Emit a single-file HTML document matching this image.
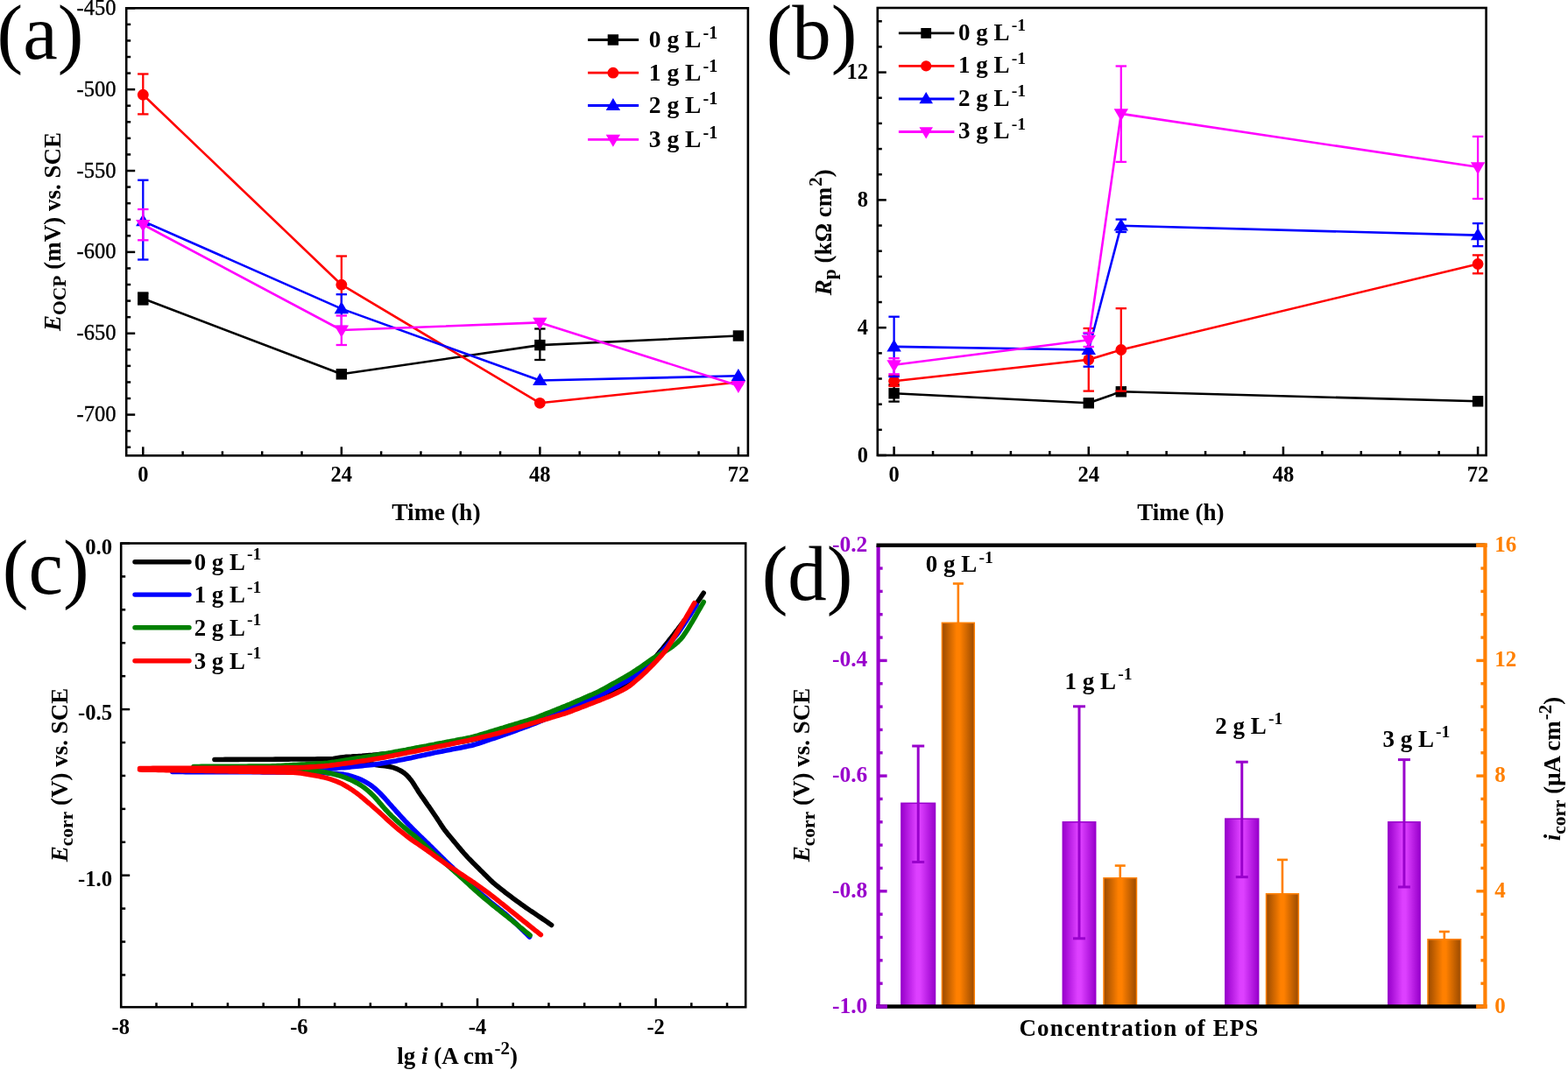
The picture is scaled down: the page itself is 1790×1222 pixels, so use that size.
<!DOCTYPE html><html><head><meta charset="utf-8"><title>Figure</title><style>html,body{margin:0;padding:0;background:#fff;width:1790px;height:1222px;overflow:hidden}svg{display:block}text{font-family:'Liberation Serif','Times New Roman',serif}</style></head><body>
<svg width="1790" height="1222" viewBox="0 0 1790 1222">
<rect width="1790" height="1222" fill="#fff"/>
<text x="-3.50" y="67.00" font-size="89" font-weight="normal" text-anchor="start" fill="#000" >(a)</text>
<text x="874.70" y="67.00" font-size="89" font-weight="normal" text-anchor="start" fill="#000" >(b)</text>
<text x="2.85" y="677.60" font-size="89" font-weight="normal" text-anchor="start" fill="#000" >(c)</text>
<text x="869.70" y="685.30" font-size="89" font-weight="normal" text-anchor="start" fill="#000" >(d)</text>
<line x1="144.20" y1="9.30" x2="154.20" y2="9.30" stroke="#000" stroke-width="2.5" stroke-linecap="butt"/>
<line x1="144.20" y1="27.87" x2="149.20" y2="27.87" stroke="#000" stroke-width="2.5" stroke-linecap="butt"/>
<line x1="144.20" y1="46.44" x2="149.20" y2="46.44" stroke="#000" stroke-width="2.5" stroke-linecap="butt"/>
<line x1="144.20" y1="65.02" x2="149.20" y2="65.02" stroke="#000" stroke-width="2.5" stroke-linecap="butt"/>
<line x1="144.20" y1="83.59" x2="149.20" y2="83.59" stroke="#000" stroke-width="2.5" stroke-linecap="butt"/>
<line x1="144.20" y1="102.16" x2="154.20" y2="102.16" stroke="#000" stroke-width="2.5" stroke-linecap="butt"/>
<line x1="144.20" y1="120.73" x2="149.20" y2="120.73" stroke="#000" stroke-width="2.5" stroke-linecap="butt"/>
<line x1="144.20" y1="139.30" x2="149.20" y2="139.30" stroke="#000" stroke-width="2.5" stroke-linecap="butt"/>
<line x1="144.20" y1="157.88" x2="149.20" y2="157.88" stroke="#000" stroke-width="2.5" stroke-linecap="butt"/>
<line x1="144.20" y1="176.45" x2="149.20" y2="176.45" stroke="#000" stroke-width="2.5" stroke-linecap="butt"/>
<line x1="144.20" y1="195.02" x2="154.20" y2="195.02" stroke="#000" stroke-width="2.5" stroke-linecap="butt"/>
<line x1="144.20" y1="213.59" x2="149.20" y2="213.59" stroke="#000" stroke-width="2.5" stroke-linecap="butt"/>
<line x1="144.20" y1="232.16" x2="149.20" y2="232.16" stroke="#000" stroke-width="2.5" stroke-linecap="butt"/>
<line x1="144.20" y1="250.74" x2="149.20" y2="250.74" stroke="#000" stroke-width="2.5" stroke-linecap="butt"/>
<line x1="144.20" y1="269.31" x2="149.20" y2="269.31" stroke="#000" stroke-width="2.5" stroke-linecap="butt"/>
<line x1="144.20" y1="287.88" x2="154.20" y2="287.88" stroke="#000" stroke-width="2.5" stroke-linecap="butt"/>
<line x1="144.20" y1="306.45" x2="149.20" y2="306.45" stroke="#000" stroke-width="2.5" stroke-linecap="butt"/>
<line x1="144.20" y1="325.02" x2="149.20" y2="325.02" stroke="#000" stroke-width="2.5" stroke-linecap="butt"/>
<line x1="144.20" y1="343.60" x2="149.20" y2="343.60" stroke="#000" stroke-width="2.5" stroke-linecap="butt"/>
<line x1="144.20" y1="362.17" x2="149.20" y2="362.17" stroke="#000" stroke-width="2.5" stroke-linecap="butt"/>
<line x1="144.20" y1="380.74" x2="154.20" y2="380.74" stroke="#000" stroke-width="2.5" stroke-linecap="butt"/>
<line x1="144.20" y1="399.31" x2="149.20" y2="399.31" stroke="#000" stroke-width="2.5" stroke-linecap="butt"/>
<line x1="144.20" y1="417.88" x2="149.20" y2="417.88" stroke="#000" stroke-width="2.5" stroke-linecap="butt"/>
<line x1="144.20" y1="436.46" x2="149.20" y2="436.46" stroke="#000" stroke-width="2.5" stroke-linecap="butt"/>
<line x1="144.20" y1="455.03" x2="149.20" y2="455.03" stroke="#000" stroke-width="2.5" stroke-linecap="butt"/>
<line x1="144.20" y1="473.60" x2="154.20" y2="473.60" stroke="#000" stroke-width="2.5" stroke-linecap="butt"/>
<line x1="144.20" y1="492.17" x2="149.20" y2="492.17" stroke="#000" stroke-width="2.5" stroke-linecap="butt"/>
<line x1="144.20" y1="510.74" x2="149.20" y2="510.74" stroke="#000" stroke-width="2.5" stroke-linecap="butt"/>
<line x1="163.30" y1="520.30" x2="163.30" y2="510.30" stroke="#000" stroke-width="2.5" stroke-linecap="butt"/>
<line x1="208.61" y1="520.30" x2="208.61" y2="515.30" stroke="#000" stroke-width="2.5" stroke-linecap="butt"/>
<line x1="253.91" y1="520.30" x2="253.91" y2="515.30" stroke="#000" stroke-width="2.5" stroke-linecap="butt"/>
<line x1="299.22" y1="520.30" x2="299.22" y2="515.30" stroke="#000" stroke-width="2.5" stroke-linecap="butt"/>
<line x1="344.53" y1="520.30" x2="344.53" y2="515.30" stroke="#000" stroke-width="2.5" stroke-linecap="butt"/>
<line x1="389.84" y1="520.30" x2="389.84" y2="510.30" stroke="#000" stroke-width="2.5" stroke-linecap="butt"/>
<line x1="435.14" y1="520.30" x2="435.14" y2="515.30" stroke="#000" stroke-width="2.5" stroke-linecap="butt"/>
<line x1="480.45" y1="520.30" x2="480.45" y2="515.30" stroke="#000" stroke-width="2.5" stroke-linecap="butt"/>
<line x1="525.76" y1="520.30" x2="525.76" y2="515.30" stroke="#000" stroke-width="2.5" stroke-linecap="butt"/>
<line x1="571.06" y1="520.30" x2="571.06" y2="515.30" stroke="#000" stroke-width="2.5" stroke-linecap="butt"/>
<line x1="616.37" y1="520.30" x2="616.37" y2="510.30" stroke="#000" stroke-width="2.5" stroke-linecap="butt"/>
<line x1="661.68" y1="520.30" x2="661.68" y2="515.30" stroke="#000" stroke-width="2.5" stroke-linecap="butt"/>
<line x1="706.99" y1="520.30" x2="706.99" y2="515.30" stroke="#000" stroke-width="2.5" stroke-linecap="butt"/>
<line x1="752.29" y1="520.30" x2="752.29" y2="515.30" stroke="#000" stroke-width="2.5" stroke-linecap="butt"/>
<line x1="797.60" y1="520.30" x2="797.60" y2="515.30" stroke="#000" stroke-width="2.5" stroke-linecap="butt"/>
<line x1="842.91" y1="520.30" x2="842.91" y2="510.30" stroke="#000" stroke-width="2.5" stroke-linecap="butt"/>
<rect x="144.2" y="9.3" width="709.70" height="511.00" fill="none" stroke="#000" stroke-width="2.6"/>
<text x="132.40" y="16.90" font-size="24.5" font-weight="normal" text-anchor="end" fill="#000" stroke="#000" stroke-width="0.35">-450</text>
<text x="132.40" y="109.76" font-size="24.5" font-weight="normal" text-anchor="end" fill="#000" stroke="#000" stroke-width="0.35">-500</text>
<text x="132.40" y="202.62" font-size="24.5" font-weight="normal" text-anchor="end" fill="#000" stroke="#000" stroke-width="0.35">-550</text>
<text x="132.40" y="295.48" font-size="24.5" font-weight="normal" text-anchor="end" fill="#000" stroke="#000" stroke-width="0.35">-600</text>
<text x="132.40" y="388.34" font-size="24.5" font-weight="normal" text-anchor="end" fill="#000" stroke="#000" stroke-width="0.35">-650</text>
<text x="132.40" y="481.20" font-size="24.5" font-weight="normal" text-anchor="end" fill="#000" stroke="#000" stroke-width="0.35">-700</text>
<text x="163.30" y="550.30" font-size="24.5" font-weight="bold" text-anchor="middle" fill="#000" >0</text>
<text x="389.84" y="550.30" font-size="24.5" font-weight="bold" text-anchor="middle" fill="#000" >24</text>
<text x="616.37" y="550.30" font-size="24.5" font-weight="bold" text-anchor="middle" fill="#000" >48</text>
<text x="842.91" y="550.30" font-size="24.5" font-weight="bold" text-anchor="middle" fill="#000" >72</text>
<text x="497.90" y="593.90" font-size="27.6" font-weight="bold" text-anchor="middle" fill="#000" >Time (h)</text>
<text transform="translate(69.0,264.5) rotate(-90)" x="0" y="0" font-size="27" font-weight="bold" text-anchor="middle"><tspan font-style="italic">E</tspan><tspan font-size="21.5" dy="5.5">OCP</tspan><tspan dy="-5.5"> (mV) vs. SCE</tspan></text>
<line x1="163.30" y1="334.50" x2="163.30" y2="347.50" stroke="#000000" stroke-width="2.3" stroke-linecap="butt"/>
<line x1="157.10" y1="334.50" x2="169.50" y2="334.50" stroke="#000000" stroke-width="2.3" stroke-linecap="butt"/>
<line x1="157.10" y1="347.50" x2="169.50" y2="347.50" stroke="#000000" stroke-width="2.3" stroke-linecap="butt"/>
<line x1="616.37" y1="375.50" x2="616.37" y2="411.00" stroke="#000000" stroke-width="2.3" stroke-linecap="butt"/>
<line x1="610.17" y1="375.50" x2="622.57" y2="375.50" stroke="#000000" stroke-width="2.3" stroke-linecap="butt"/>
<line x1="610.17" y1="411.00" x2="622.57" y2="411.00" stroke="#000000" stroke-width="2.3" stroke-linecap="butt"/>
<polyline points="163.30,341.00 389.84,427.30 616.37,394.10 842.91,383.50" fill="none" stroke="#000000" stroke-width="2.6" stroke-linejoin="round" />
<rect x="157.10" y="334.80" width="12.40" height="12.40" fill="#000000"/>
<rect x="383.64" y="421.10" width="12.40" height="12.40" fill="#000000"/>
<rect x="610.17" y="387.90" width="12.40" height="12.40" fill="#000000"/>
<rect x="836.71" y="377.30" width="12.40" height="12.40" fill="#000000"/>
<line x1="163.30" y1="84.50" x2="163.30" y2="130.40" stroke="#ff0000" stroke-width="2.3" stroke-linecap="butt"/>
<line x1="157.10" y1="84.50" x2="169.50" y2="84.50" stroke="#ff0000" stroke-width="2.3" stroke-linecap="butt"/>
<line x1="157.10" y1="130.40" x2="169.50" y2="130.40" stroke="#ff0000" stroke-width="2.3" stroke-linecap="butt"/>
<line x1="389.84" y1="292.50" x2="389.84" y2="356.40" stroke="#ff0000" stroke-width="2.3" stroke-linecap="butt"/>
<line x1="383.64" y1="292.50" x2="396.04" y2="292.50" stroke="#ff0000" stroke-width="2.3" stroke-linecap="butt"/>
<line x1="383.64" y1="356.40" x2="396.04" y2="356.40" stroke="#ff0000" stroke-width="2.3" stroke-linecap="butt"/>
<polyline points="163.30,108.20 389.84,325.20 616.37,460.30 842.91,436.50" fill="none" stroke="#ff0000" stroke-width="2.6" stroke-linejoin="round" />
<circle cx="163.30" cy="108.20" r="6.40" fill="#ff0000"/>
<circle cx="389.84" cy="325.20" r="6.40" fill="#ff0000"/>
<circle cx="616.37" cy="460.30" r="6.40" fill="#ff0000"/>
<circle cx="842.91" cy="436.50" r="6.40" fill="#ff0000"/>
<line x1="163.30" y1="205.70" x2="163.30" y2="296.50" stroke="#0000ff" stroke-width="2.3" stroke-linecap="butt"/>
<line x1="157.10" y1="205.70" x2="169.50" y2="205.70" stroke="#0000ff" stroke-width="2.3" stroke-linecap="butt"/>
<line x1="157.10" y1="296.50" x2="169.50" y2="296.50" stroke="#0000ff" stroke-width="2.3" stroke-linecap="butt"/>
<line x1="389.84" y1="336.20" x2="389.84" y2="373.00" stroke="#0000ff" stroke-width="2.3" stroke-linecap="butt"/>
<line x1="383.64" y1="336.20" x2="396.04" y2="336.20" stroke="#0000ff" stroke-width="2.3" stroke-linecap="butt"/>
<line x1="383.64" y1="373.00" x2="396.04" y2="373.00" stroke="#0000ff" stroke-width="2.3" stroke-linecap="butt"/>
<polyline points="163.30,252.60 389.84,352.60 616.37,434.50 842.91,429.30" fill="none" stroke="#0000ff" stroke-width="2.6" stroke-linejoin="round" />
<polygon points="163.30,244.20 171.50,258.20 155.10,258.20" fill="#0000ff"/>
<polygon points="389.84,344.20 398.04,358.20 381.64,358.20" fill="#0000ff"/>
<polygon points="616.37,426.10 624.57,440.10 608.17,440.10" fill="#0000ff"/>
<polygon points="842.91,420.90 851.11,434.90 834.71,434.90" fill="#0000ff"/>
<line x1="163.30" y1="239.00" x2="163.30" y2="274.30" stroke="#ff00ff" stroke-width="2.3" stroke-linecap="butt"/>
<line x1="157.10" y1="239.00" x2="169.50" y2="239.00" stroke="#ff00ff" stroke-width="2.3" stroke-linecap="butt"/>
<line x1="157.10" y1="274.30" x2="169.50" y2="274.30" stroke="#ff00ff" stroke-width="2.3" stroke-linecap="butt"/>
<line x1="389.84" y1="360.50" x2="389.84" y2="394.00" stroke="#ff00ff" stroke-width="2.3" stroke-linecap="butt"/>
<line x1="383.64" y1="360.50" x2="396.04" y2="360.50" stroke="#ff00ff" stroke-width="2.3" stroke-linecap="butt"/>
<line x1="383.64" y1="394.00" x2="396.04" y2="394.00" stroke="#ff00ff" stroke-width="2.3" stroke-linecap="butt"/>
<polyline points="163.30,256.50 389.84,377.00 616.37,368.40 842.91,440.50" fill="none" stroke="#ff00ff" stroke-width="2.6" stroke-linejoin="round" />
<polygon points="163.30,264.90 171.50,250.90 155.10,250.90" fill="#ff00ff"/>
<polygon points="389.84,385.40 398.04,371.40 381.64,371.40" fill="#ff00ff"/>
<polygon points="616.37,376.80 624.57,362.80 608.17,362.80" fill="#ff00ff"/>
<polygon points="842.91,448.90 851.11,434.90 834.71,434.90" fill="#ff00ff"/>
<line x1="671.10" y1="45.50" x2="729.10" y2="45.50" stroke="#000000" stroke-width="2.8" stroke-linecap="butt"/>
<rect x="693.70" y="39.30" width="12.40" height="12.40" fill="#000000"/>
<text x="740.80" y="54.40" font-size="27.5" font-weight="bold" text-anchor="start" fill="#000">0 g L<tspan font-size="20.1" dx="2.20" dy="-10.59">-1</tspan></text>
<line x1="671.10" y1="83.20" x2="729.10" y2="83.20" stroke="#ff0000" stroke-width="2.8" stroke-linecap="butt"/>
<circle cx="699.90" cy="83.20" r="6.40" fill="#ff0000"/>
<text x="740.80" y="92.10" font-size="27.5" font-weight="bold" text-anchor="start" fill="#000">1 g L<tspan font-size="20.1" dx="2.20" dy="-10.59">-1</tspan></text>
<line x1="671.10" y1="120.50" x2="729.10" y2="120.50" stroke="#0000ff" stroke-width="2.8" stroke-linecap="butt"/>
<polygon points="699.90,112.10 708.10,126.10 691.70,126.10" fill="#0000ff"/>
<text x="740.80" y="129.40" font-size="27.5" font-weight="bold" text-anchor="start" fill="#000">2 g L<tspan font-size="20.1" dx="2.20" dy="-10.59">-1</tspan></text>
<line x1="671.10" y1="159.40" x2="729.10" y2="159.40" stroke="#ff00ff" stroke-width="2.8" stroke-linecap="butt"/>
<polygon points="699.90,167.80 708.10,153.80 691.70,153.80" fill="#ff00ff"/>
<text x="740.80" y="168.30" font-size="27.5" font-weight="bold" text-anchor="start" fill="#000">3 g L<tspan font-size="20.1" dx="2.20" dy="-10.59">-1</tspan></text>
<line x1="1001.80" y1="520.00" x2="1011.80" y2="520.00" stroke="#000" stroke-width="2.5" stroke-linecap="butt"/>
<line x1="1001.80" y1="490.84" x2="1006.80" y2="490.84" stroke="#000" stroke-width="2.5" stroke-linecap="butt"/>
<line x1="1001.80" y1="461.68" x2="1006.80" y2="461.68" stroke="#000" stroke-width="2.5" stroke-linecap="butt"/>
<line x1="1001.80" y1="432.52" x2="1006.80" y2="432.52" stroke="#000" stroke-width="2.5" stroke-linecap="butt"/>
<line x1="1001.80" y1="403.36" x2="1006.80" y2="403.36" stroke="#000" stroke-width="2.5" stroke-linecap="butt"/>
<line x1="1001.80" y1="374.20" x2="1011.80" y2="374.20" stroke="#000" stroke-width="2.5" stroke-linecap="butt"/>
<line x1="1001.80" y1="345.04" x2="1006.80" y2="345.04" stroke="#000" stroke-width="2.5" stroke-linecap="butt"/>
<line x1="1001.80" y1="315.88" x2="1006.80" y2="315.88" stroke="#000" stroke-width="2.5" stroke-linecap="butt"/>
<line x1="1001.80" y1="286.72" x2="1006.80" y2="286.72" stroke="#000" stroke-width="2.5" stroke-linecap="butt"/>
<line x1="1001.80" y1="257.56" x2="1006.80" y2="257.56" stroke="#000" stroke-width="2.5" stroke-linecap="butt"/>
<line x1="1001.80" y1="228.40" x2="1011.80" y2="228.40" stroke="#000" stroke-width="2.5" stroke-linecap="butt"/>
<line x1="1001.80" y1="199.24" x2="1006.80" y2="199.24" stroke="#000" stroke-width="2.5" stroke-linecap="butt"/>
<line x1="1001.80" y1="170.08" x2="1006.80" y2="170.08" stroke="#000" stroke-width="2.5" stroke-linecap="butt"/>
<line x1="1001.80" y1="140.92" x2="1006.80" y2="140.92" stroke="#000" stroke-width="2.5" stroke-linecap="butt"/>
<line x1="1001.80" y1="111.76" x2="1006.80" y2="111.76" stroke="#000" stroke-width="2.5" stroke-linecap="butt"/>
<line x1="1001.80" y1="82.60" x2="1011.80" y2="82.60" stroke="#000" stroke-width="2.5" stroke-linecap="butt"/>
<line x1="1001.80" y1="53.44" x2="1006.80" y2="53.44" stroke="#000" stroke-width="2.5" stroke-linecap="butt"/>
<line x1="1001.80" y1="24.28" x2="1006.80" y2="24.28" stroke="#000" stroke-width="2.5" stroke-linecap="butt"/>
<line x1="1020.60" y1="520.00" x2="1020.60" y2="510.00" stroke="#000" stroke-width="2.5" stroke-linecap="butt"/>
<line x1="1065.03" y1="520.00" x2="1065.03" y2="515.00" stroke="#000" stroke-width="2.5" stroke-linecap="butt"/>
<line x1="1109.47" y1="520.00" x2="1109.47" y2="515.00" stroke="#000" stroke-width="2.5" stroke-linecap="butt"/>
<line x1="1153.90" y1="520.00" x2="1153.90" y2="515.00" stroke="#000" stroke-width="2.5" stroke-linecap="butt"/>
<line x1="1198.33" y1="520.00" x2="1198.33" y2="515.00" stroke="#000" stroke-width="2.5" stroke-linecap="butt"/>
<line x1="1242.77" y1="520.00" x2="1242.77" y2="510.00" stroke="#000" stroke-width="2.5" stroke-linecap="butt"/>
<line x1="1287.20" y1="520.00" x2="1287.20" y2="515.00" stroke="#000" stroke-width="2.5" stroke-linecap="butt"/>
<line x1="1331.64" y1="520.00" x2="1331.64" y2="515.00" stroke="#000" stroke-width="2.5" stroke-linecap="butt"/>
<line x1="1376.07" y1="520.00" x2="1376.07" y2="515.00" stroke="#000" stroke-width="2.5" stroke-linecap="butt"/>
<line x1="1420.50" y1="520.00" x2="1420.50" y2="515.00" stroke="#000" stroke-width="2.5" stroke-linecap="butt"/>
<line x1="1464.94" y1="520.00" x2="1464.94" y2="510.00" stroke="#000" stroke-width="2.5" stroke-linecap="butt"/>
<line x1="1509.37" y1="520.00" x2="1509.37" y2="515.00" stroke="#000" stroke-width="2.5" stroke-linecap="butt"/>
<line x1="1553.80" y1="520.00" x2="1553.80" y2="515.00" stroke="#000" stroke-width="2.5" stroke-linecap="butt"/>
<line x1="1598.24" y1="520.00" x2="1598.24" y2="515.00" stroke="#000" stroke-width="2.5" stroke-linecap="butt"/>
<line x1="1642.67" y1="520.00" x2="1642.67" y2="515.00" stroke="#000" stroke-width="2.5" stroke-linecap="butt"/>
<line x1="1687.10" y1="520.00" x2="1687.10" y2="510.00" stroke="#000" stroke-width="2.5" stroke-linecap="butt"/>
<rect x="1001.8" y="9.0" width="694.80" height="511.00" fill="none" stroke="#000" stroke-width="2.6"/>
<text x="991.00" y="527.70" font-size="24.5" font-weight="bold" text-anchor="end" fill="#000" >0</text>
<text x="991.00" y="381.90" font-size="24.5" font-weight="bold" text-anchor="end" fill="#000" >4</text>
<text x="991.00" y="236.10" font-size="24.5" font-weight="bold" text-anchor="end" fill="#000" >8</text>
<text x="991.00" y="90.30" font-size="24.5" font-weight="bold" text-anchor="end" fill="#000" >12</text>
<text x="1020.60" y="550.30" font-size="24.5" font-weight="bold" text-anchor="middle" fill="#000" >0</text>
<text x="1242.77" y="550.30" font-size="24.5" font-weight="bold" text-anchor="middle" fill="#000" >24</text>
<text x="1464.94" y="550.30" font-size="24.5" font-weight="bold" text-anchor="middle" fill="#000" >48</text>
<text x="1687.10" y="550.30" font-size="24.5" font-weight="bold" text-anchor="middle" fill="#000" >72</text>
<text x="1347.80" y="593.80" font-size="27" font-weight="bold" text-anchor="middle" fill="#000" >Time (h)</text>
<text transform="translate(948.5,265.2) rotate(-90)" x="0" y="0" font-size="27" font-weight="bold" text-anchor="middle"><tspan font-style="italic">R</tspan><tspan font-size="21.5" dy="5.5">p</tspan><tspan dy="-5.5"> (k&#937; cm</tspan><tspan font-size="21" dx="1" dy="-10.5">2</tspan><tspan dy="10.5">)</tspan></text>
<line x1="1020.60" y1="439.50" x2="1020.60" y2="458.60" stroke="#000000" stroke-width="2.3" stroke-linecap="butt"/>
<line x1="1014.40" y1="439.50" x2="1026.80" y2="439.50" stroke="#000000" stroke-width="2.3" stroke-linecap="butt"/>
<line x1="1014.40" y1="458.60" x2="1026.80" y2="458.60" stroke="#000000" stroke-width="2.3" stroke-linecap="butt"/>
<polyline points="1020.60,449.30 1242.77,460.30 1279.80,447.30 1687.10,458.30" fill="none" stroke="#000000" stroke-width="2.6" stroke-linejoin="round" />
<rect x="1014.40" y="443.10" width="12.40" height="12.40" fill="#000000"/>
<rect x="1236.57" y="454.10" width="12.40" height="12.40" fill="#000000"/>
<rect x="1273.60" y="441.10" width="12.40" height="12.40" fill="#000000"/>
<rect x="1680.90" y="452.10" width="12.40" height="12.40" fill="#000000"/>
<line x1="1020.60" y1="429.00" x2="1020.60" y2="441.00" stroke="#ff0000" stroke-width="2.3" stroke-linecap="butt"/>
<line x1="1014.40" y1="429.00" x2="1026.80" y2="429.00" stroke="#ff0000" stroke-width="2.3" stroke-linecap="butt"/>
<line x1="1014.40" y1="441.00" x2="1026.80" y2="441.00" stroke="#ff0000" stroke-width="2.3" stroke-linecap="butt"/>
<line x1="1242.77" y1="375.00" x2="1242.77" y2="446.60" stroke="#ff0000" stroke-width="2.3" stroke-linecap="butt"/>
<line x1="1236.57" y1="375.00" x2="1248.97" y2="375.00" stroke="#ff0000" stroke-width="2.3" stroke-linecap="butt"/>
<line x1="1236.57" y1="446.60" x2="1248.97" y2="446.60" stroke="#ff0000" stroke-width="2.3" stroke-linecap="butt"/>
<line x1="1279.80" y1="352.20" x2="1279.80" y2="446.60" stroke="#ff0000" stroke-width="2.3" stroke-linecap="butt"/>
<line x1="1273.60" y1="352.20" x2="1286.00" y2="352.20" stroke="#ff0000" stroke-width="2.3" stroke-linecap="butt"/>
<line x1="1273.60" y1="446.60" x2="1286.00" y2="446.60" stroke="#ff0000" stroke-width="2.3" stroke-linecap="butt"/>
<line x1="1687.10" y1="291.40" x2="1687.10" y2="312.30" stroke="#ff0000" stroke-width="2.3" stroke-linecap="butt"/>
<line x1="1680.90" y1="291.40" x2="1693.30" y2="291.40" stroke="#ff0000" stroke-width="2.3" stroke-linecap="butt"/>
<line x1="1680.90" y1="312.30" x2="1693.30" y2="312.30" stroke="#ff0000" stroke-width="2.3" stroke-linecap="butt"/>
<polyline points="1020.60,435.30 1242.77,410.80 1279.80,399.50 1687.10,301.50" fill="none" stroke="#ff0000" stroke-width="2.6" stroke-linejoin="round" />
<circle cx="1020.60" cy="435.30" r="6.40" fill="#ff0000"/>
<circle cx="1242.77" cy="410.80" r="6.40" fill="#ff0000"/>
<circle cx="1279.80" cy="399.50" r="6.40" fill="#ff0000"/>
<circle cx="1687.10" cy="301.50" r="6.40" fill="#ff0000"/>
<line x1="1020.60" y1="361.70" x2="1020.60" y2="430.10" stroke="#0000ff" stroke-width="2.3" stroke-linecap="butt"/>
<line x1="1014.40" y1="361.70" x2="1026.80" y2="361.70" stroke="#0000ff" stroke-width="2.3" stroke-linecap="butt"/>
<line x1="1014.40" y1="430.10" x2="1026.80" y2="430.10" stroke="#0000ff" stroke-width="2.3" stroke-linecap="butt"/>
<line x1="1242.77" y1="380.70" x2="1242.77" y2="418.70" stroke="#0000ff" stroke-width="2.3" stroke-linecap="butt"/>
<line x1="1236.57" y1="380.70" x2="1248.97" y2="380.70" stroke="#0000ff" stroke-width="2.3" stroke-linecap="butt"/>
<line x1="1236.57" y1="418.70" x2="1248.97" y2="418.70" stroke="#0000ff" stroke-width="2.3" stroke-linecap="butt"/>
<line x1="1279.80" y1="250.60" x2="1279.80" y2="265.00" stroke="#0000ff" stroke-width="2.3" stroke-linecap="butt"/>
<line x1="1273.60" y1="250.60" x2="1286.00" y2="250.60" stroke="#0000ff" stroke-width="2.3" stroke-linecap="butt"/>
<line x1="1273.60" y1="265.00" x2="1286.00" y2="265.00" stroke="#0000ff" stroke-width="2.3" stroke-linecap="butt"/>
<line x1="1687.10" y1="255.10" x2="1687.10" y2="281.20" stroke="#0000ff" stroke-width="2.3" stroke-linecap="butt"/>
<line x1="1680.90" y1="255.10" x2="1693.30" y2="255.10" stroke="#0000ff" stroke-width="2.3" stroke-linecap="butt"/>
<line x1="1680.90" y1="281.20" x2="1693.30" y2="281.20" stroke="#0000ff" stroke-width="2.3" stroke-linecap="butt"/>
<polyline points="1020.60,395.90 1242.77,399.50 1279.80,257.80 1687.10,268.60" fill="none" stroke="#0000ff" stroke-width="2.6" stroke-linejoin="round" />
<polygon points="1020.60,387.50 1028.80,401.50 1012.40,401.50" fill="#0000ff"/>
<polygon points="1242.77,391.10 1250.97,405.10 1234.57,405.10" fill="#0000ff"/>
<polygon points="1279.80,249.40 1288.00,263.40 1271.60,263.40" fill="#0000ff"/>
<polygon points="1687.10,260.20 1695.30,274.20 1678.90,274.20" fill="#0000ff"/>
<line x1="1020.60" y1="409.20" x2="1020.60" y2="427.30" stroke="#ff00ff" stroke-width="2.3" stroke-linecap="butt"/>
<line x1="1014.40" y1="409.20" x2="1026.80" y2="409.20" stroke="#ff00ff" stroke-width="2.3" stroke-linecap="butt"/>
<line x1="1014.40" y1="427.30" x2="1026.80" y2="427.30" stroke="#ff00ff" stroke-width="2.3" stroke-linecap="butt"/>
<line x1="1242.77" y1="380.00" x2="1242.77" y2="396.00" stroke="#ff00ff" stroke-width="2.3" stroke-linecap="butt"/>
<line x1="1236.57" y1="380.00" x2="1248.97" y2="380.00" stroke="#ff00ff" stroke-width="2.3" stroke-linecap="butt"/>
<line x1="1236.57" y1="396.00" x2="1248.97" y2="396.00" stroke="#ff00ff" stroke-width="2.3" stroke-linecap="butt"/>
<line x1="1279.80" y1="75.50" x2="1279.80" y2="184.90" stroke="#ff00ff" stroke-width="2.3" stroke-linecap="butt"/>
<line x1="1273.60" y1="75.50" x2="1286.00" y2="75.50" stroke="#ff00ff" stroke-width="2.3" stroke-linecap="butt"/>
<line x1="1273.60" y1="184.90" x2="1286.00" y2="184.90" stroke="#ff00ff" stroke-width="2.3" stroke-linecap="butt"/>
<line x1="1687.10" y1="155.90" x2="1687.10" y2="227.00" stroke="#ff00ff" stroke-width="2.3" stroke-linecap="butt"/>
<line x1="1680.90" y1="155.90" x2="1693.30" y2="155.90" stroke="#ff00ff" stroke-width="2.3" stroke-linecap="butt"/>
<line x1="1680.90" y1="227.00" x2="1693.30" y2="227.00" stroke="#ff00ff" stroke-width="2.3" stroke-linecap="butt"/>
<polyline points="1020.60,416.80 1242.77,388.30 1279.80,129.90 1687.10,190.80" fill="none" stroke="#ff00ff" stroke-width="2.6" stroke-linejoin="round" />
<polygon points="1020.60,425.20 1028.80,411.20 1012.40,411.20" fill="#ff00ff"/>
<polygon points="1242.77,396.70 1250.97,382.70 1234.57,382.70" fill="#ff00ff"/>
<polygon points="1279.80,138.30 1288.00,124.30 1271.60,124.30" fill="#ff00ff"/>
<polygon points="1687.10,199.20 1695.30,185.20 1678.90,185.20" fill="#ff00ff"/>
<line x1="1025.90" y1="37.90" x2="1089.40" y2="37.90" stroke="#000000" stroke-width="2.8" stroke-linecap="butt"/>
<rect x="1051.31" y="32.01" width="11.78" height="11.78" fill="#000000"/>
<text x="1094.10" y="45.70" font-size="27" font-weight="bold" text-anchor="start" fill="#000">0 g L<tspan font-size="19.7" dx="2.16" dy="-10.39">-1</tspan></text>
<line x1="1025.90" y1="75.40" x2="1089.40" y2="75.40" stroke="#ff0000" stroke-width="2.8" stroke-linecap="butt"/>
<circle cx="1057.20" cy="75.40" r="6.08" fill="#ff0000"/>
<text x="1094.10" y="83.20" font-size="27" font-weight="bold" text-anchor="start" fill="#000">1 g L<tspan font-size="19.7" dx="2.16" dy="-10.39">-1</tspan></text>
<line x1="1025.90" y1="113.00" x2="1089.40" y2="113.00" stroke="#0000ff" stroke-width="2.8" stroke-linecap="butt"/>
<polygon points="1057.20,105.02 1064.99,118.32 1049.41,118.32" fill="#0000ff"/>
<text x="1094.10" y="120.80" font-size="27" font-weight="bold" text-anchor="start" fill="#000">2 g L<tspan font-size="19.7" dx="2.16" dy="-10.39">-1</tspan></text>
<line x1="1025.90" y1="150.50" x2="1089.40" y2="150.50" stroke="#ff00ff" stroke-width="2.8" stroke-linecap="butt"/>
<polygon points="1057.20,158.48 1064.99,145.18 1049.41,145.18" fill="#ff00ff"/>
<text x="1094.10" y="158.30" font-size="27" font-weight="bold" text-anchor="start" fill="#000">3 g L<tspan font-size="19.7" dx="2.16" dy="-10.39">-1</tspan></text>
<line x1="138.20" y1="620.50" x2="148.20" y2="620.50" stroke="#000" stroke-width="2.5" stroke-linecap="butt"/>
<line x1="138.20" y1="658.42" x2="143.20" y2="658.42" stroke="#000" stroke-width="2.5" stroke-linecap="butt"/>
<line x1="138.20" y1="696.34" x2="143.20" y2="696.34" stroke="#000" stroke-width="2.5" stroke-linecap="butt"/>
<line x1="138.20" y1="734.26" x2="143.20" y2="734.26" stroke="#000" stroke-width="2.5" stroke-linecap="butt"/>
<line x1="138.20" y1="772.18" x2="143.20" y2="772.18" stroke="#000" stroke-width="2.5" stroke-linecap="butt"/>
<line x1="138.20" y1="810.10" x2="148.20" y2="810.10" stroke="#000" stroke-width="2.5" stroke-linecap="butt"/>
<line x1="138.20" y1="848.02" x2="143.20" y2="848.02" stroke="#000" stroke-width="2.5" stroke-linecap="butt"/>
<line x1="138.20" y1="885.94" x2="143.20" y2="885.94" stroke="#000" stroke-width="2.5" stroke-linecap="butt"/>
<line x1="138.20" y1="923.86" x2="143.20" y2="923.86" stroke="#000" stroke-width="2.5" stroke-linecap="butt"/>
<line x1="138.20" y1="961.78" x2="143.20" y2="961.78" stroke="#000" stroke-width="2.5" stroke-linecap="butt"/>
<line x1="138.20" y1="999.70" x2="148.20" y2="999.70" stroke="#000" stroke-width="2.5" stroke-linecap="butt"/>
<line x1="138.20" y1="1037.62" x2="143.20" y2="1037.62" stroke="#000" stroke-width="2.5" stroke-linecap="butt"/>
<line x1="138.20" y1="1075.54" x2="143.20" y2="1075.54" stroke="#000" stroke-width="2.5" stroke-linecap="butt"/>
<line x1="138.20" y1="1113.46" x2="143.20" y2="1113.46" stroke="#000" stroke-width="2.5" stroke-linecap="butt"/>
<line x1="178.52" y1="1150.20" x2="178.52" y2="1145.20" stroke="#000" stroke-width="2.5" stroke-linecap="butt"/>
<line x1="219.24" y1="1150.20" x2="219.24" y2="1145.20" stroke="#000" stroke-width="2.5" stroke-linecap="butt"/>
<line x1="259.96" y1="1150.20" x2="259.96" y2="1145.20" stroke="#000" stroke-width="2.5" stroke-linecap="butt"/>
<line x1="300.68" y1="1150.20" x2="300.68" y2="1145.20" stroke="#000" stroke-width="2.5" stroke-linecap="butt"/>
<line x1="341.40" y1="1150.20" x2="341.40" y2="1140.20" stroke="#000" stroke-width="2.5" stroke-linecap="butt"/>
<line x1="382.12" y1="1150.20" x2="382.12" y2="1145.20" stroke="#000" stroke-width="2.5" stroke-linecap="butt"/>
<line x1="422.84" y1="1150.20" x2="422.84" y2="1145.20" stroke="#000" stroke-width="2.5" stroke-linecap="butt"/>
<line x1="463.56" y1="1150.20" x2="463.56" y2="1145.20" stroke="#000" stroke-width="2.5" stroke-linecap="butt"/>
<line x1="504.28" y1="1150.20" x2="504.28" y2="1145.20" stroke="#000" stroke-width="2.5" stroke-linecap="butt"/>
<line x1="545.00" y1="1150.20" x2="545.00" y2="1140.20" stroke="#000" stroke-width="2.5" stroke-linecap="butt"/>
<line x1="585.72" y1="1150.20" x2="585.72" y2="1145.20" stroke="#000" stroke-width="2.5" stroke-linecap="butt"/>
<line x1="626.44" y1="1150.20" x2="626.44" y2="1145.20" stroke="#000" stroke-width="2.5" stroke-linecap="butt"/>
<line x1="667.16" y1="1150.20" x2="667.16" y2="1145.20" stroke="#000" stroke-width="2.5" stroke-linecap="butt"/>
<line x1="707.88" y1="1150.20" x2="707.88" y2="1145.20" stroke="#000" stroke-width="2.5" stroke-linecap="butt"/>
<line x1="748.60" y1="1150.20" x2="748.60" y2="1140.20" stroke="#000" stroke-width="2.5" stroke-linecap="butt"/>
<line x1="789.32" y1="1150.20" x2="789.32" y2="1145.20" stroke="#000" stroke-width="2.5" stroke-linecap="butt"/>
<line x1="830.04" y1="1150.20" x2="830.04" y2="1145.20" stroke="#000" stroke-width="2.5" stroke-linecap="butt"/>
<rect x="138.2" y="620.5" width="713.00" height="529.70" fill="none" stroke="#000" stroke-width="2.6"/>
<text x="128.00" y="632.50" font-size="24.7" font-weight="bold" text-anchor="end" fill="#000" >0.0</text>
<text x="128.00" y="822.10" font-size="24.7" font-weight="bold" text-anchor="end" fill="#000" >-0.5</text>
<text x="128.00" y="1011.70" font-size="24.7" font-weight="bold" text-anchor="end" fill="#000" >-1.0</text>
<text x="137.80" y="1180.50" font-size="24.5" font-weight="bold" text-anchor="middle" fill="#000" >-8</text>
<text x="341.40" y="1180.50" font-size="24.5" font-weight="bold" text-anchor="middle" fill="#000" >-6</text>
<text x="545.00" y="1180.50" font-size="24.5" font-weight="bold" text-anchor="middle" fill="#000" >-4</text>
<text x="748.60" y="1180.50" font-size="24.5" font-weight="bold" text-anchor="middle" fill="#000" >-2</text>
<text x="522.2" y="1214.6" font-size="27" font-weight="bold" text-anchor="middle">lg <tspan font-style="italic">i</tspan> (A cm<tspan font-size="21" dx="1" dy="-10.5">-2</tspan><tspan dy="10.5">)</tspan></text>
<text transform="translate(77,885) rotate(-90)" x="0" y="0" font-size="27" font-weight="bold" text-anchor="middle"><tspan font-style="italic">E</tspan><tspan font-size="21.5" dy="5.5">corr</tspan><tspan dy="-5.5"> (V) vs. SCE</tspan></text>
<path d="M382.5,867.8 L385.5,868.1 L388.5,868.4 L391.5,868.7 L394.5,869.0 L397.5,869.3 L400.5,869.6 L403.5,869.9 L406.5,870.2 L409.5,870.6 L412.5,871.0 L415.5,871.4 L418.5,871.9 L421.4,872.4 L424.4,872.9 L427.4,873.3 L430.4,873.8 L433.4,874.1 L436.4,874.5 L439.3,874.8 L442.3,875.2 L445.3,875.7 L448.2,876.4 L451.0,877.3 L453.8,878.4 L456.5,879.7 L459.1,881.2 L461.5,882.9 L463.8,884.8 L465.9,886.9 L467.8,889.2 L469.7,891.5 L471.4,894.0 L473.0,896.5 L474.6,899.1 L476.2,901.6 L477.8,904.2 L479.5,906.7 L481.2,909.2 L483.0,911.6 L484.7,914.1 L486.4,916.6 L488.1,919.1 L489.9,921.5 L491.6,924.0 L493.3,926.5 L495.0,929.0 L496.7,931.5 L498.4,934.0 L500.0,936.5 L501.7,939.0 L503.3,941.6 L505.0,944.1 L506.7,946.6 L508.5,949.0 L510.3,951.3 L512.2,953.7 L514.2,956.0 L516.1,958.3 L518.0,960.6 L520.0,963.0 L521.9,965.3 L523.8,967.6 L525.8,969.9 L527.7,972.2 L529.7,974.5 L531.7,976.7 L533.7,978.9 L535.8,981.1 L538.0,983.3 L540.1,985.4 L542.2,987.5 L544.4,989.7 L546.5,991.8 L548.6,993.9 L550.8,996.1 L552.9,998.2 L555.0,1000.3 L557.2,1002.5 L559.3,1004.6 L561.5,1006.6 L563.7,1008.7 L566.0,1010.6 L568.4,1012.5 L570.7,1014.4 L573.1,1016.3 L575.5,1018.1 L577.8,1020.0 L580.2,1021.8 L582.6,1023.6 L585.1,1025.4 L587.5,1027.2 L589.9,1029.0 L592.4,1030.8 L594.8,1032.6 L597.3,1034.3 L599.7,1036.1 L602.2,1037.8 L604.7,1039.5 L607.2,1041.1 L609.7,1042.8 L612.2,1044.5 L614.7,1046.2 L617.2,1047.9 L619.7,1049.6 L622.2,1051.3 L624.7,1053.0 L627.1,1054.8 L629.6,1056.5" fill="none" stroke="#000000" stroke-width="5.6" stroke-linecap="round" stroke-linejoin="round"/>
<path d="M245.0,867.5 L248.0,867.5 L251.0,867.5 L254.0,867.5 L257.1,867.4 L260.1,867.4 L263.1,867.4 L266.1,867.4 L269.1,867.4 L272.1,867.4 L275.1,867.3 L278.2,867.3 L281.2,867.3 L284.2,867.3 L287.2,867.3 L290.2,867.3 L293.2,867.2 L296.2,867.2 L299.2,867.2 L302.3,867.2 L305.3,867.2 L308.3,867.2 L311.3,867.2 L314.3,867.1 L317.3,867.1 L320.3,867.1 L323.4,867.1 L326.4,867.1 L329.4,867.1 L332.4,867.0 L335.4,867.0 L338.4,867.0 L341.4,867.0 L344.5,867.0 L347.5,867.0 L350.5,867.0 L353.5,867.0 L356.5,867.0 L359.5,867.0 L362.5,866.9 L365.6,866.9 L368.6,866.9 L371.6,866.9 L374.6,866.9 L377.6,866.7 L380.5,866.5 L383.4,866.0 L386.3,865.5 L389.3,865.0 L392.2,864.7 L395.2,864.4 L398.2,864.2 L401.2,864.1 L404.2,863.9 L407.2,863.8 L410.3,863.6 L413.3,863.4 L416.3,863.1 L419.3,862.8 L422.3,862.5 L425.3,862.3 L428.3,862.0 L431.3,861.7 L434.3,861.4 L437.3,861.1 L440.3,860.8 L443.3,860.5 L446.2,860.1 L449.2,859.8 L452.2,859.4 L455.2,858.9 L458.2,858.5 L461.2,858.0 L464.1,857.5 L467.1,856.9 L470.1,856.4 L473.0,855.9 L476.0,855.4 L479.0,854.9 L481.9,854.4 L484.9,853.9 L487.9,853.4 L490.9,852.9 L493.8,852.4 L496.8,851.9 L499.8,851.4 L502.8,851.0 L505.7,850.5 L508.7,850.0 L511.7,849.5 L514.7,849.1 L517.6,848.6 L520.6,848.1 L523.6,847.6 L526.6,847.1 L529.5,846.7 L532.5,846.2 L535.5,845.6 L538.4,845.0 L541.4,844.4 L544.3,843.7 L547.2,843.0 L550.2,842.3 L553.1,841.5 L556.0,840.8 L558.9,840.1 L561.9,839.4 L564.8,838.7 L567.7,837.9 L570.6,837.2 L573.6,836.4 L576.5,835.6 L579.4,834.8 L582.2,833.9 L585.1,833.1 L588.0,832.2 L590.9,831.4 L593.8,830.5 L596.7,829.6 L599.6,828.8 L602.5,827.9 L605.3,827.0 L608.2,826.1 L611.1,825.2 L613.9,824.2 L616.8,823.2 L619.6,822.2 L622.4,821.2 L625.3,820.1 L628.1,819.1 L630.9,818.1 L633.8,817.0 L636.6,816.0 L639.4,815.0 L642.2,813.9 L645.1,812.9 L647.9,811.8 L650.7,810.8 L653.5,809.7 L656.4,808.6 L659.2,807.6 L662.0,806.5 L664.8,805.4 L667.6,804.4 L670.5,803.3 L673.3,802.2 L676.1,801.1 L678.9,800.0 L681.7,798.9 L684.4,797.7 L687.1,796.4 L689.8,795.0 L692.5,793.6 L695.1,792.1 L697.7,790.7 L700.4,789.2 L703.0,787.7 L705.6,786.2 L708.2,784.6 L710.7,783.1 L713.3,781.5 L715.9,780.0 L718.4,778.3 L720.9,776.7 L723.3,774.8 L725.6,772.9 L727.8,770.9 L729.9,768.8 L732.1,766.6 L734.2,764.5 L736.3,762.4 L738.5,760.2 L740.6,758.1 L742.7,756.0 L744.8,753.8 L746.9,751.7 L749.0,749.5 L751.0,747.2 L752.9,744.9 L754.8,742.6 L756.8,740.3 L758.6,737.9 L760.5,735.6 L762.4,733.2 L764.2,730.8 L766.1,728.4 L768.0,726.1 L769.8,723.7 L771.6,721.3 L773.5,718.9 L775.3,716.5 L777.1,714.1 L779.0,711.7 L780.8,709.3 L782.6,706.9 L784.4,704.5 L786.2,702.1 L788.0,699.6 L789.7,697.2 L791.5,694.7 L793.2,692.2 L794.8,689.7 L796.5,687.2 L798.2,684.7 L799.9,682.2 L801.5,679.7 L803.2,677.2" fill="none" stroke="#000000" stroke-width="5.6" stroke-linecap="round" stroke-linejoin="round"/>
<path d="M196.8,881.5 L199.8,881.5 L202.8,881.5 L205.8,881.5 L208.8,881.5 L211.9,881.6 L214.9,881.6 L217.9,881.6 L220.9,881.6 L223.9,881.6 L226.9,881.6 L229.9,881.6 L232.9,881.6 L236.0,881.6 L239.0,881.6 L242.0,881.7 L245.0,881.7 L248.0,881.7 L251.0,881.7 L254.0,881.7 L257.0,881.7 L260.1,881.7 L263.1,881.7 L266.1,881.7 L269.1,881.8 L272.1,881.8 L275.1,881.8 L278.1,881.8 L281.1,881.8 L284.2,881.8 L287.2,881.8 L290.2,881.8 L293.2,881.8 L296.2,881.8 L299.2,881.9 L302.2,881.9 L305.2,881.9 L308.2,881.9 L311.3,881.9 L314.3,881.9 L317.3,881.9 L320.3,881.9 L323.3,881.9 L326.3,882.0 L329.3,882.0 L332.3,882.0 L335.4,882.0 L338.4,882.0 L341.4,882.1 L344.4,882.1 L347.4,882.2 L350.4,882.3 L353.4,882.3 L356.4,882.4 L359.5,882.5 L362.5,882.6 L365.5,882.6 L368.5,882.7 L371.5,882.8 L374.5,882.9 L377.5,883.0 L380.5,883.2 L383.5,883.4 L386.5,883.7 L389.5,884.0 L392.5,884.4 L395.4,884.9 L398.4,885.6 L401.2,886.4 L404.1,887.3 L406.9,888.3 L409.7,889.4 L412.5,890.6 L415.2,891.9 L417.8,893.4 L420.4,894.9 L422.9,896.5 L425.3,898.3 L427.6,900.2 L429.9,902.2 L432.1,904.2 L434.2,906.3 L436.3,908.5 L438.4,910.7 L440.4,913.0 L442.3,915.2 L444.3,917.5 L446.3,919.7 L448.3,922.0 L450.3,924.2 L452.3,926.5 L454.4,928.7 L456.4,931.0 L458.4,933.2 L460.5,935.4 L462.5,937.6 L464.6,939.8 L466.7,942.0 L468.8,944.1 L470.9,946.2 L473.0,948.4 L475.2,950.5 L477.3,952.6 L479.5,954.7 L481.7,956.8 L483.8,958.9 L486.0,961.0 L488.2,963.0 L490.3,965.2 L492.5,967.3 L494.6,969.4 L496.7,971.5 L498.9,973.7 L501.0,975.8 L503.1,977.9 L505.3,980.0 L507.4,982.1 L509.6,984.2 L511.8,986.3 L514.0,988.4 L516.2,990.4 L518.4,992.5 L520.6,994.5 L522.8,996.6 L525.0,998.7 L527.2,1000.7 L529.4,1002.8 L531.6,1004.8 L533.8,1006.8 L536.0,1008.9 L538.2,1010.9 L540.4,1013.0 L542.7,1015.0 L544.9,1017.0 L547.2,1019.0 L549.4,1021.0 L551.7,1023.0 L554.0,1024.9 L556.3,1026.9 L558.5,1028.9 L560.8,1030.8 L563.2,1032.7 L565.5,1034.6 L567.9,1036.5 L570.2,1038.4 L572.6,1040.3 L574.9,1042.1 L577.3,1044.0 L579.6,1046.0 L581.8,1048.0 L584.0,1050.0 L586.2,1052.1 L588.4,1054.2 L590.5,1056.3 L592.7,1058.4 L594.8,1060.5 L597.0,1062.6 L599.1,1064.7 L601.3,1066.8 L603.4,1068.9 L604.5,1070.0" fill="none" stroke="#0000ff" stroke-width="5.6" stroke-linecap="round" stroke-linejoin="round"/>
<path d="M196.8,880.0 L199.8,880.0 L202.8,880.0 L205.8,880.0 L208.8,880.0 L211.9,880.0 L214.9,880.0 L217.9,880.0 L220.9,880.0 L223.9,880.0 L226.9,880.0 L229.9,880.0 L232.9,880.0 L236.0,880.0 L239.0,880.0 L242.0,880.0 L245.0,880.0 L248.0,880.0 L251.0,880.0 L254.0,880.0 L257.0,880.0 L260.1,880.0 L263.1,880.0 L266.1,880.0 L269.1,880.0 L272.1,880.0 L275.1,880.0 L278.1,880.0 L281.1,880.0 L284.2,880.0 L287.2,880.0 L290.2,880.0 L293.2,880.0 L296.2,880.0 L299.2,880.0 L302.2,880.0 L305.2,880.0 L308.3,880.0 L311.3,880.0 L314.3,880.0 L317.3,880.0 L320.3,880.0 L323.3,880.0 L326.3,880.0 L329.3,880.0 L332.3,880.0 L335.4,880.0 L338.4,879.9 L341.4,879.8 L344.4,879.7 L347.4,879.5 L350.4,879.3 L353.4,879.1 L356.4,878.9 L359.4,878.7 L362.4,878.6 L365.4,878.4 L368.4,878.2 L371.4,878.0 L374.4,877.8 L377.5,877.6 L380.5,877.4 L383.5,877.2 L386.5,877.0 L389.5,876.8 L392.5,876.6 L395.5,876.4 L398.5,876.1 L401.5,875.8 L404.5,875.5 L407.5,875.2 L410.5,874.9 L413.5,874.6 L416.5,874.3 L419.5,874.0 L422.5,873.7 L425.5,873.4 L428.4,873.0 L431.4,872.5 L434.4,872.1 L437.4,871.5 L440.3,871.0 L443.3,870.5 L446.2,869.9 L449.2,869.4 L452.2,868.9 L455.1,868.3 L458.1,867.8 L461.1,867.2 L464.0,866.6 L467.0,866.0 L469.9,865.4 L472.8,864.7 L475.8,864.1 L478.7,863.4 L481.7,862.8 L484.6,862.2 L487.6,861.5 L490.5,860.9 L493.5,860.3 L496.4,859.6 L499.4,859.1 L502.3,858.5 L505.3,857.9 L508.2,857.3 L511.2,856.8 L514.1,856.2 L517.1,855.6 L520.1,855.0 L523.0,854.5 L526.0,853.9 L528.9,853.3 L531.9,852.7 L534.8,852.1 L537.8,851.5 L540.7,850.7 L543.6,849.9 L546.4,849.0 L549.3,848.1 L552.2,847.1 L555.0,846.2 L557.9,845.2 L560.7,844.2 L563.6,843.3 L566.4,842.3 L569.3,841.4 L572.1,840.4 L575.0,839.4 L577.8,838.4 L580.7,837.4 L583.5,836.3 L586.3,835.3 L589.1,834.3 L592.0,833.2 L594.8,832.2 L597.6,831.1 L600.5,830.1 L603.3,829.1 L606.1,828.0 L608.9,826.9 L611.7,825.8 L614.5,824.7 L617.3,823.5 L620.0,822.3 L622.8,821.1 L625.6,819.9 L628.3,818.7 L631.1,817.5 L633.9,816.3 L636.6,815.1 L639.4,813.9 L642.1,812.7 L644.9,811.5 L647.7,810.3 L650.4,809.1 L653.2,807.9 L656.0,806.7 L658.7,805.5 L661.5,804.3 L664.3,803.1 L667.0,801.9 L669.8,800.7 L672.5,799.5 L675.3,798.3 L678.1,797.1 L680.8,795.9 L683.5,794.6 L686.2,793.3 L688.9,791.9 L691.6,790.5 L694.3,789.1 L696.9,787.7 L699.6,786.3 L702.2,784.9 L704.9,783.5 L707.5,782.0 L710.2,780.6 L712.9,779.2 L715.5,777.8 L718.1,776.3 L720.7,774.7 L723.2,773.1 L725.7,771.4 L728.2,769.7 L730.6,767.9 L733.0,766.1 L735.3,764.2 L737.5,762.2 L739.7,760.1 L741.8,758.0 L744.0,755.8 L746.1,753.7 L748.2,751.6 L750.3,749.4 L752.5,747.3 L754.5,745.1 L756.6,742.9 L758.6,740.7 L760.7,738.5 L762.7,736.2 L764.7,734.0 L766.7,731.7 L768.7,729.5 L770.6,727.2 L772.5,724.9 L774.4,722.5 L776.1,720.0 L777.8,717.5 L779.5,715.0 L781.1,712.5 L782.8,710.0 L784.5,707.5 L786.1,705.0 L787.8,702.5 L789.4,699.9 L791.0,697.4 L792.6,694.8 L794.2,692.3 L795.0,691.0" fill="none" stroke="#0000ff" stroke-width="5.6" stroke-linecap="round" stroke-linejoin="round"/>
<path d="M221.0,877.0 L224.0,877.1 L227.0,877.1 L230.1,877.2 L233.1,877.3 L236.1,877.3 L239.1,877.4 L242.1,877.4 L245.1,877.5 L248.2,877.6 L251.2,877.6 L254.2,877.7 L257.2,877.8 L260.2,877.8 L263.2,877.9 L266.3,878.0 L269.3,878.0 L272.3,878.1 L275.3,878.1 L278.3,878.2 L281.3,878.3 L284.4,878.3 L287.4,878.4 L290.4,878.5 L293.4,878.5 L296.4,878.6 L299.4,878.6 L302.5,878.7 L305.5,878.8 L308.5,878.8 L311.5,878.9 L314.5,879.0 L317.6,879.0 L320.6,879.1 L323.6,879.2 L326.6,879.2 L329.6,879.3 L332.6,879.3 L335.7,879.4 L338.7,879.5 L341.7,879.6 L344.7,879.7 L347.7,879.8 L350.7,879.9 L353.7,880.1 L356.8,880.3 L359.8,880.5 L362.8,880.8 L365.8,881.2 L368.7,881.6 L371.7,882.1 L374.7,882.7 L377.6,883.3 L380.6,884.0 L383.5,884.7 L386.4,885.5 L389.3,886.4 L392.1,887.4 L394.9,888.4 L397.7,889.6 L400.5,890.7 L403.2,892.0 L405.9,893.4 L408.6,894.8 L411.1,896.4 L413.6,898.0 L416.1,899.8 L418.4,901.6 L420.8,903.6 L423.0,905.6 L425.2,907.7 L427.3,909.8 L429.3,912.0 L431.3,914.3 L433.2,916.6 L435.2,918.9 L437.1,921.2 L439.1,923.5 L441.2,925.7 L443.2,927.9 L445.3,930.1 L447.4,932.2 L449.6,934.3 L451.8,936.4 L454.0,938.4 L456.3,940.5 L458.5,942.5 L460.8,944.5 L463.1,946.4 L465.4,948.4 L467.7,950.3 L470.1,952.2 L472.4,954.0 L474.8,956.0 L477.1,957.9 L479.3,959.9 L481.6,961.9 L483.8,963.9 L486.0,966.0 L488.2,968.0 L490.4,970.1 L492.7,972.1 L494.9,974.2 L497.1,976.2 L499.4,978.2 L501.7,980.2 L504.0,982.1 L506.2,984.1 L508.5,986.1 L510.8,988.1 L513.1,990.1 L515.3,992.1 L517.6,994.1 L519.8,996.1 L522.1,998.1 L524.3,1000.1 L526.5,1002.2 L528.8,1004.2 L531.0,1006.2 L533.2,1008.3 L535.4,1010.3 L537.6,1012.4 L539.9,1014.4 L542.1,1016.4 L544.4,1018.4 L546.6,1020.4 L548.9,1022.4 L551.2,1024.3 L553.5,1026.3 L555.8,1028.2 L558.2,1030.2 L560.5,1032.1 L562.8,1034.0 L565.2,1035.9 L567.5,1037.8 L569.9,1039.6 L572.3,1041.5 L574.6,1043.4 L577.0,1045.3 L579.4,1047.1 L581.7,1049.0 L584.1,1050.9 L586.4,1052.8 L588.7,1054.7 L591.1,1056.6 L593.4,1058.6 L595.8,1060.5 L598.1,1062.4 L600.4,1064.3 L602.8,1066.2 L605.1,1068.1" fill="none" stroke="#008000" stroke-width="5.6" stroke-linecap="round" stroke-linejoin="round"/>
<path d="M221.0,875.5 L224.0,875.5 L227.0,875.5 L230.0,875.4 L233.0,875.4 L236.0,875.4 L239.0,875.4 L242.1,875.4 L245.1,875.4 L248.1,875.3 L251.1,875.3 L254.1,875.3 L257.1,875.3 L260.1,875.3 L263.1,875.3 L266.1,875.2 L269.1,875.2 L272.1,875.2 L275.1,875.2 L278.1,875.2 L281.1,875.2 L284.2,875.1 L287.2,875.1 L290.2,875.1 L293.2,875.1 L296.2,875.1 L299.2,875.1 L302.2,875.0 L305.2,875.0 L308.2,875.0 L311.2,874.9 L314.2,874.8 L317.2,874.6 L320.2,874.5 L323.2,874.3 L326.2,874.1 L329.2,874.0 L332.2,873.8 L335.2,873.6 L338.2,873.5 L341.2,873.3 L344.2,873.1 L347.2,873.0 L350.3,872.8 L353.3,872.6 L356.3,872.5 L359.3,872.3 L362.3,872.1 L365.3,872.0 L368.3,871.8 L371.3,871.5 L374.2,871.2 L377.2,870.8 L380.2,870.4 L383.2,869.9 L386.1,869.5 L389.1,869.0 L392.1,868.5 L395.0,868.0 L398.0,867.6 L401.0,867.1 L404.0,866.6 L406.9,866.1 L409.9,865.6 L412.9,865.2 L415.8,864.7 L418.8,864.2 L421.8,863.7 L424.7,863.3 L427.7,862.8 L430.7,862.3 L433.6,861.8 L436.6,861.3 L439.6,860.8 L442.5,860.3 L445.5,859.8 L448.4,859.2 L451.4,858.6 L454.4,858.1 L457.3,857.5 L460.3,856.9 L463.2,856.4 L466.2,855.8 L469.1,855.3 L472.1,854.7 L475.0,854.1 L478.0,853.6 L480.9,853.0 L483.9,852.4 L486.8,851.9 L489.8,851.3 L492.8,850.7 L495.7,850.2 L498.7,849.6 L501.6,849.0 L504.6,848.5 L507.5,847.9 L510.5,847.3 L513.4,846.8 L516.4,846.2 L519.3,845.7 L522.3,845.1 L525.2,844.5 L528.2,844.0 L531.2,843.4 L534.1,842.8 L537.0,842.2 L540.0,841.5 L542.9,840.7 L545.8,839.9 L548.6,839.0 L551.5,838.1 L554.4,837.3 L557.3,836.4 L560.1,835.5 L563.0,834.6 L565.9,833.7 L568.8,832.8 L571.6,831.9 L574.5,831.1 L577.4,830.2 L580.3,829.3 L583.1,828.5 L586.0,827.6 L588.9,826.7 L591.8,825.9 L594.7,825.0 L597.5,824.1 L600.4,823.3 L603.3,822.4 L606.2,821.5 L609.0,820.6 L611.9,819.6 L614.7,818.5 L617.5,817.4 L620.3,816.3 L623.1,815.2 L625.9,814.1 L628.7,813.0 L631.5,811.9 L634.2,810.8 L637.0,809.7 L639.8,808.6 L642.6,807.4 L645.4,806.3 L648.2,805.1 L651.0,804.0 L653.7,802.8 L656.5,801.6 L659.2,800.4 L662.0,799.2 L664.8,798.0 L667.5,796.8 L670.3,795.6 L673.0,794.4 L675.8,793.2 L678.5,792.0 L681.3,790.8 L684.0,789.5 L686.7,788.1 L689.3,786.7 L692.0,785.2 L694.6,783.8 L697.2,782.3 L699.8,780.8 L702.4,779.4 L705.1,777.9 L707.7,776.4 L710.3,774.9 L712.9,773.5 L715.5,772.0 L718.1,770.4 L720.7,768.9 L723.2,767.2 L725.7,765.6 L728.2,763.9 L730.7,762.2 L733.2,760.5 L735.6,758.8 L738.1,757.1 L740.6,755.3 L743.0,753.6 L745.5,751.9 L748.0,750.3 L750.6,748.7 L753.2,747.2 L755.8,745.7 L758.4,744.3 L761.0,742.8 L763.6,741.2 L766.1,739.5 L768.5,737.7 L770.8,735.8 L773.1,733.9 L775.2,731.8 L777.3,729.7 L779.2,727.4 L780.9,724.9 L782.6,722.4 L784.2,719.9 L785.8,717.4 L787.4,714.8 L788.9,712.2 L790.5,709.7 L792.0,707.1 L793.5,704.5 L795.0,701.9 L796.5,699.2 L798.0,696.6 L799.5,694.0 L801.0,691.4 L802.5,688.8 L803.2,687.5" fill="none" stroke="#008000" stroke-width="5.6" stroke-linecap="round" stroke-linejoin="round"/>
<path d="M159.6,879.0 L162.6,879.1 L165.6,879.1 L168.6,879.2 L171.6,879.2 L174.7,879.3 L177.7,879.3 L180.7,879.4 L183.7,879.4 L186.7,879.5 L189.7,879.6 L192.7,879.6 L195.7,879.7 L198.8,879.7 L201.8,879.8 L204.8,879.8 L207.8,879.9 L210.8,879.9 L213.8,880.0 L216.8,880.0 L219.8,880.1 L222.8,880.2 L225.9,880.2 L228.9,880.3 L231.9,880.3 L234.9,880.4 L237.9,880.4 L240.9,880.5 L243.9,880.5 L246.9,880.6 L250.0,880.7 L253.0,880.7 L256.0,880.8 L259.0,880.8 L262.0,880.9 L265.0,880.9 L268.0,881.0 L271.0,881.0 L274.0,881.1 L277.1,881.1 L280.1,881.2 L283.1,881.3 L286.1,881.3 L289.1,881.4 L292.1,881.4 L295.1,881.5 L298.1,881.5 L301.1,881.6 L304.2,881.6 L307.2,881.7 L310.2,881.8 L313.2,881.8 L316.2,881.9 L319.2,881.9 L322.2,882.0 L325.2,882.0 L328.3,882.1 L331.3,882.2 L334.3,882.2 L337.3,882.4 L340.3,882.6 L343.3,883.0 L346.2,883.4 L349.2,883.9 L352.2,884.4 L355.1,885.0 L358.1,885.5 L361.1,886.1 L364.0,886.6 L367.0,887.2 L369.9,887.9 L372.8,888.6 L375.7,889.4 L378.6,890.3 L381.4,891.3 L384.2,892.4 L387.0,893.6 L389.7,894.8 L392.4,896.2 L395.0,897.7 L397.6,899.2 L400.1,900.9 L402.6,902.5 L405.0,904.3 L407.5,906.0 L409.9,907.9 L412.2,909.7 L414.6,911.6 L416.8,913.6 L419.1,915.6 L421.4,917.5 L423.7,919.5 L425.9,921.5 L428.2,923.5 L430.5,925.5 L432.7,927.4 L435.0,929.5 L437.2,931.5 L439.4,933.5 L441.6,935.6 L443.8,937.6 L446.1,939.6 L448.3,941.6 L450.6,943.6 L452.9,945.6 L455.2,947.5 L457.5,949.4 L459.9,951.3 L462.2,953.2 L464.6,955.1 L467.0,956.9 L469.4,958.6 L471.9,960.4 L474.4,962.1 L476.9,963.8 L479.3,965.5 L481.8,967.2 L484.3,968.9 L486.8,970.6 L489.2,972.4 L491.7,974.1 L494.1,975.9 L496.5,977.7 L498.9,979.5 L501.4,981.3 L503.8,983.0 L506.3,984.8 L508.7,986.5 L511.2,988.2 L513.7,989.9 L516.2,991.5 L518.8,993.2 L521.3,994.8 L523.8,996.5 L526.3,998.2 L528.8,999.8 L531.3,1001.5 L533.8,1003.2 L536.3,1004.9 L538.8,1006.6 L541.3,1008.2 L543.8,1010.0 L546.2,1011.7 L548.7,1013.5 L551.1,1015.2 L553.5,1017.0 L556.0,1018.8 L558.4,1020.6 L560.8,1022.4 L563.2,1024.2 L565.6,1026.1 L567.9,1028.0 L570.3,1029.9 L572.6,1031.8 L575.0,1033.6 L577.3,1035.5 L579.7,1037.4 L582.0,1039.3 L584.4,1041.2 L586.7,1043.1 L589.1,1044.9 L591.4,1046.8 L593.8,1048.7 L596.1,1050.6 L598.5,1052.5 L600.8,1054.3 L603.2,1056.2 L605.5,1058.1 L607.9,1060.0 L610.2,1061.9 L612.6,1063.7 L614.9,1065.6 L617.3,1067.5" fill="none" stroke="#ff0000" stroke-width="5.6" stroke-linecap="round" stroke-linejoin="round"/>
<path d="M159.6,877.5 L162.6,877.5 L165.6,877.5 L168.6,877.5 L171.6,877.5 L174.7,877.4 L177.7,877.4 L180.7,877.4 L183.7,877.4 L186.7,877.4 L189.7,877.4 L192.7,877.4 L195.7,877.4 L198.7,877.4 L201.8,877.4 L204.8,877.3 L207.8,877.3 L210.8,877.3 L213.8,877.3 L216.8,877.3 L219.8,877.3 L222.8,877.3 L225.8,877.3 L228.9,877.3 L231.9,877.3 L234.9,877.2 L237.9,877.2 L240.9,877.2 L243.9,877.2 L246.9,877.2 L249.9,877.2 L252.9,877.2 L256.0,877.2 L259.0,877.2 L262.0,877.2 L265.0,877.1 L268.0,877.1 L271.0,877.1 L274.0,877.1 L277.0,877.1 L280.0,877.1 L283.1,877.1 L286.1,877.1 L289.1,877.1 L292.1,877.1 L295.1,877.0 L298.1,877.0 L301.1,877.0 L304.1,877.0 L307.1,877.0 L310.2,877.0 L313.2,877.0 L316.2,877.0 L319.2,877.0 L322.2,877.0 L325.2,876.9 L328.2,876.9 L331.2,876.9 L334.2,876.9 L337.3,876.9 L340.3,876.8 L343.3,876.6 L346.3,876.5 L349.3,876.3 L352.3,876.1 L355.3,875.9 L358.3,875.7 L361.3,875.5 L364.3,875.3 L367.3,875.1 L370.3,874.9 L373.3,874.6 L376.3,874.3 L379.3,873.9 L382.3,873.5 L385.3,873.1 L388.2,872.7 L391.2,872.3 L394.2,871.9 L397.2,871.5 L400.2,871.1 L403.2,870.7 L406.1,870.3 L409.1,869.8 L412.1,869.3 L415.1,868.9 L418.0,868.4 L421.0,867.9 L424.0,867.4 L426.9,866.9 L429.9,866.4 L432.9,865.9 L435.8,865.4 L438.8,864.9 L441.8,864.3 L444.7,863.8 L447.7,863.2 L450.6,862.6 L453.6,862.0 L456.5,861.4 L459.5,860.8 L462.5,860.2 L465.4,859.6 L468.4,859.0 L471.3,858.5 L474.3,857.9 L477.2,857.3 L480.2,856.7 L483.1,856.1 L486.1,855.5 L489.0,854.9 L492.0,854.3 L494.9,853.7 L497.9,853.1 L500.8,852.6 L503.8,852.0 L506.7,851.4 L509.7,850.8 L512.6,850.2 L515.6,849.5 L518.5,848.9 L521.5,848.3 L524.4,847.7 L527.4,847.1 L530.3,846.5 L533.3,845.9 L536.2,845.3 L539.2,844.6 L542.1,843.9 L545.0,843.2 L548.0,842.5 L550.9,841.8 L553.8,841.1 L556.7,840.4 L559.7,839.7 L562.6,838.9 L565.5,838.2 L568.4,837.5 L571.3,836.7 L574.2,835.9 L577.1,835.1 L580.0,834.3 L582.9,833.4 L585.8,832.6 L588.7,831.7 L591.6,830.8 L594.4,830.0 L597.3,829.1 L600.2,828.2 L603.1,827.4 L606.0,826.5 L608.9,825.6 L611.8,824.8 L614.6,823.9 L617.5,823.0 L620.4,822.2 L623.3,821.3 L626.2,820.5 L629.1,819.6 L631.9,818.7 L634.8,817.9 L637.7,817.0 L640.6,816.1 L643.5,815.3 L646.3,814.3 L649.2,813.3 L652.0,812.3 L654.8,811.2 L657.6,810.2 L660.4,809.1 L663.3,808.0 L666.1,806.9 L668.9,805.8 L671.7,804.7 L674.5,803.6 L677.3,802.6 L680.1,801.5 L682.9,800.4 L685.7,799.3 L688.5,798.1 L691.3,797.0 L694.1,795.9 L696.9,794.7 L699.6,793.5 L702.3,792.2 L705.1,790.9 L707.8,789.6 L710.4,788.2 L713.1,786.8 L715.7,785.3 L718.1,783.6 L720.5,781.9 L722.9,780.0 L725.1,778.0 L727.4,776.0 L729.7,774.1 L731.9,772.1 L734.2,770.0 L736.4,768.0 L738.5,765.9 L740.6,763.7 L742.8,761.6 L744.9,759.5 L747.0,757.3 L749.1,755.1 L751.1,752.9 L753.2,750.7 L755.2,748.5 L757.1,746.2 L759.0,743.9 L760.8,741.4 L762.5,739.0 L764.1,736.4 L765.7,733.9 L767.3,731.3 L768.8,728.7 L770.4,726.2 L772.0,723.6 L773.6,721.1 L775.2,718.5 L776.8,715.9 L778.3,713.4 L779.9,710.8 L781.4,708.2 L783.0,705.6 L784.5,703.0 L786.0,700.4 L787.5,697.8 L789.0,695.2 L790.5,692.6 L792.0,690.0 L792.8,688.7" fill="none" stroke="#ff0000" stroke-width="5.6" stroke-linecap="round" stroke-linejoin="round"/>
<line x1="154.00" y1="641.70" x2="216.00" y2="641.70" stroke="#000000" stroke-width="5.4" stroke-linecap="round"/>
<text x="221.70" y="650.70" font-size="26.8" font-weight="bold" text-anchor="start" fill="#000">0 g L<tspan font-size="19.6" dx="2.14" dy="-11.52">-1</tspan></text>
<line x1="154.00" y1="679.10" x2="216.00" y2="679.10" stroke="#0000ff" stroke-width="5.4" stroke-linecap="round"/>
<text x="221.70" y="688.10" font-size="26.8" font-weight="bold" text-anchor="start" fill="#000">1 g L<tspan font-size="19.6" dx="2.14" dy="-11.52">-1</tspan></text>
<line x1="154.00" y1="716.70" x2="216.00" y2="716.70" stroke="#008000" stroke-width="5.4" stroke-linecap="round"/>
<text x="221.70" y="725.70" font-size="26.8" font-weight="bold" text-anchor="start" fill="#000">2 g L<tspan font-size="19.6" dx="2.14" dy="-11.52">-1</tspan></text>
<line x1="154.00" y1="754.80" x2="216.00" y2="754.80" stroke="#ff0000" stroke-width="5.4" stroke-linecap="round"/>
<text x="221.70" y="763.80" font-size="26.8" font-weight="bold" text-anchor="start" fill="#000">3 g L<tspan font-size="19.6" dx="2.14" dy="-11.52">-1</tspan></text>
<defs><linearGradient id="gp" x1="0" x2="1" y1="0" y2="0"><stop offset="0" stop-color="#9900cc"/><stop offset="0.45" stop-color="#dd40ff"/><stop offset="0.55" stop-color="#dd40ff"/><stop offset="1" stop-color="#9900cc"/></linearGradient><linearGradient id="go" x1="0" x2="1" y1="0" y2="0"><stop offset="0" stop-color="#9a4a00"/><stop offset="0.45" stop-color="#ff8000"/><stop offset="0.55" stop-color="#ff8000"/><stop offset="1" stop-color="#9a4a00"/></linearGradient></defs>
<rect x="1028.9" y="917.3" width="38.6" height="232.2" fill="url(#gp)" stroke="#9900cc" stroke-width="1.5"/>
<line x1="1048.20" y1="852.00" x2="1048.20" y2="984.50" stroke="#9900cc" stroke-width="3.0" stroke-linecap="butt"/>
<line x1="1041.20" y1="852.00" x2="1055.20" y2="852.00" stroke="#9900cc" stroke-width="3.0" stroke-linecap="butt"/>
<line x1="1041.20" y1="984.50" x2="1055.20" y2="984.50" stroke="#9900cc" stroke-width="3.0" stroke-linecap="butt"/>
<rect x="1213.3" y="938.8" width="37.4" height="210.7" fill="url(#gp)" stroke="#9900cc" stroke-width="1.5"/>
<line x1="1232.00" y1="806.80" x2="1232.00" y2="1071.80" stroke="#9900cc" stroke-width="3.0" stroke-linecap="butt"/>
<line x1="1225.00" y1="806.80" x2="1239.00" y2="806.80" stroke="#9900cc" stroke-width="3.0" stroke-linecap="butt"/>
<line x1="1225.00" y1="1071.80" x2="1239.00" y2="1071.80" stroke="#9900cc" stroke-width="3.0" stroke-linecap="butt"/>
<rect x="1398.8" y="935.1" width="37.9" height="214.4" fill="url(#gp)" stroke="#9900cc" stroke-width="1.5"/>
<line x1="1417.75" y1="870.20" x2="1417.75" y2="1001.60" stroke="#9900cc" stroke-width="3.0" stroke-linecap="butt"/>
<line x1="1410.75" y1="870.20" x2="1424.75" y2="870.20" stroke="#9900cc" stroke-width="3.0" stroke-linecap="butt"/>
<line x1="1410.75" y1="1001.60" x2="1424.75" y2="1001.60" stroke="#9900cc" stroke-width="3.0" stroke-linecap="butt"/>
<rect x="1584.8" y="938.8" width="36.3" height="210.7" fill="url(#gp)" stroke="#9900cc" stroke-width="1.5"/>
<line x1="1602.95" y1="867.60" x2="1602.95" y2="1013.00" stroke="#9900cc" stroke-width="3.0" stroke-linecap="butt"/>
<line x1="1595.95" y1="867.60" x2="1609.95" y2="867.60" stroke="#9900cc" stroke-width="3.0" stroke-linecap="butt"/>
<line x1="1595.95" y1="1013.00" x2="1609.95" y2="1013.00" stroke="#9900cc" stroke-width="3.0" stroke-linecap="butt"/>
<line x1="1093.85" y1="666.50" x2="1093.85" y2="756.10" stroke="#ff8000" stroke-width="2.6" stroke-linecap="butt"/>
<line x1="1087.85" y1="666.50" x2="1099.85" y2="666.50" stroke="#ff8000" stroke-width="2.6" stroke-linecap="butt"/>
<line x1="1087.85" y1="756.10" x2="1099.85" y2="756.10" stroke="#ff8000" stroke-width="2.6" stroke-linecap="butt"/>
<rect x="1075.4" y="711.3" width="36.9" height="438.2" fill="url(#go)" stroke="#ff8000" stroke-width="1.5"/>
<line x1="1278.75" y1="988.60" x2="1278.75" y2="1016.80" stroke="#ff8000" stroke-width="2.6" stroke-linecap="butt"/>
<line x1="1272.75" y1="988.60" x2="1284.75" y2="988.60" stroke="#ff8000" stroke-width="2.6" stroke-linecap="butt"/>
<line x1="1272.75" y1="1016.80" x2="1284.75" y2="1016.80" stroke="#ff8000" stroke-width="2.6" stroke-linecap="butt"/>
<rect x="1260.0" y="1002.7" width="37.5" height="146.8" fill="url(#go)" stroke="#ff8000" stroke-width="1.5"/>
<line x1="1463.95" y1="981.90" x2="1463.95" y2="1059.70" stroke="#ff8000" stroke-width="2.6" stroke-linecap="butt"/>
<line x1="1457.95" y1="981.90" x2="1469.95" y2="981.90" stroke="#ff8000" stroke-width="2.6" stroke-linecap="butt"/>
<line x1="1457.95" y1="1059.70" x2="1469.95" y2="1059.70" stroke="#ff8000" stroke-width="2.6" stroke-linecap="butt"/>
<rect x="1445.5" y="1020.8" width="36.9" height="128.7" fill="url(#go)" stroke="#ff8000" stroke-width="1.5"/>
<line x1="1648.80" y1="1064.00" x2="1648.80" y2="1081.60" stroke="#ff8000" stroke-width="2.6" stroke-linecap="butt"/>
<line x1="1642.80" y1="1064.00" x2="1654.80" y2="1064.00" stroke="#ff8000" stroke-width="2.6" stroke-linecap="butt"/>
<line x1="1642.80" y1="1081.60" x2="1654.80" y2="1081.60" stroke="#ff8000" stroke-width="2.6" stroke-linecap="butt"/>
<rect x="1630.0" y="1072.8" width="37.6" height="76.7" fill="url(#go)" stroke="#ff8000" stroke-width="1.5"/>
<line x1="1002.60" y1="622.70" x2="1002.60" y2="1151.75" stroke="#9900cc" stroke-width="4.2" stroke-linecap="butt"/>
<line x1="1000.50" y1="622.70" x2="1695.40" y2="622.70" stroke="#000" stroke-width="4.6" stroke-linecap="butt"/>
<line x1="1000.50" y1="1149.50" x2="1695.40" y2="1149.50" stroke="#000" stroke-width="4.6" stroke-linecap="butt"/>
<line x1="1002.60" y1="649.04" x2="1007.60" y2="649.04" stroke="#9900cc" stroke-width="3.4" stroke-linecap="butt"/>
<line x1="1002.60" y1="675.38" x2="1007.60" y2="675.38" stroke="#9900cc" stroke-width="3.4" stroke-linecap="butt"/>
<line x1="1002.60" y1="701.72" x2="1007.60" y2="701.72" stroke="#9900cc" stroke-width="3.4" stroke-linecap="butt"/>
<line x1="1002.60" y1="728.06" x2="1007.60" y2="728.06" stroke="#9900cc" stroke-width="3.4" stroke-linecap="butt"/>
<line x1="1002.60" y1="754.40" x2="1012.60" y2="754.40" stroke="#9900cc" stroke-width="3.4" stroke-linecap="butt"/>
<line x1="1002.60" y1="780.74" x2="1007.60" y2="780.74" stroke="#9900cc" stroke-width="3.4" stroke-linecap="butt"/>
<line x1="1002.60" y1="807.08" x2="1007.60" y2="807.08" stroke="#9900cc" stroke-width="3.4" stroke-linecap="butt"/>
<line x1="1002.60" y1="833.42" x2="1007.60" y2="833.42" stroke="#9900cc" stroke-width="3.4" stroke-linecap="butt"/>
<line x1="1002.60" y1="859.76" x2="1007.60" y2="859.76" stroke="#9900cc" stroke-width="3.4" stroke-linecap="butt"/>
<line x1="1002.60" y1="886.10" x2="1012.60" y2="886.10" stroke="#9900cc" stroke-width="3.4" stroke-linecap="butt"/>
<line x1="1002.60" y1="912.44" x2="1007.60" y2="912.44" stroke="#9900cc" stroke-width="3.4" stroke-linecap="butt"/>
<line x1="1002.60" y1="938.78" x2="1007.60" y2="938.78" stroke="#9900cc" stroke-width="3.4" stroke-linecap="butt"/>
<line x1="1002.60" y1="965.12" x2="1007.60" y2="965.12" stroke="#9900cc" stroke-width="3.4" stroke-linecap="butt"/>
<line x1="1002.60" y1="991.46" x2="1007.60" y2="991.46" stroke="#9900cc" stroke-width="3.4" stroke-linecap="butt"/>
<line x1="1002.60" y1="1017.80" x2="1012.60" y2="1017.80" stroke="#9900cc" stroke-width="3.4" stroke-linecap="butt"/>
<line x1="1002.60" y1="1044.14" x2="1007.60" y2="1044.14" stroke="#9900cc" stroke-width="3.4" stroke-linecap="butt"/>
<line x1="1002.60" y1="1070.48" x2="1007.60" y2="1070.48" stroke="#9900cc" stroke-width="3.4" stroke-linecap="butt"/>
<line x1="1002.60" y1="1096.82" x2="1007.60" y2="1096.82" stroke="#9900cc" stroke-width="3.4" stroke-linecap="butt"/>
<line x1="1002.60" y1="1123.16" x2="1007.60" y2="1123.16" stroke="#9900cc" stroke-width="3.4" stroke-linecap="butt"/>
<rect x="1000.3" y="1147.2" width="12.6" height="4.6" fill="#9900cc"/>
<line x1="1695.40" y1="1123.16" x2="1690.40" y2="1123.16" stroke="#ff8000" stroke-width="3.4" stroke-linecap="butt"/>
<line x1="1695.40" y1="1096.82" x2="1690.40" y2="1096.82" stroke="#ff8000" stroke-width="3.4" stroke-linecap="butt"/>
<line x1="1695.40" y1="1070.48" x2="1690.40" y2="1070.48" stroke="#ff8000" stroke-width="3.4" stroke-linecap="butt"/>
<line x1="1695.40" y1="1044.14" x2="1690.40" y2="1044.14" stroke="#ff8000" stroke-width="3.4" stroke-linecap="butt"/>
<line x1="1695.40" y1="1017.80" x2="1685.40" y2="1017.80" stroke="#ff8000" stroke-width="3.4" stroke-linecap="butt"/>
<line x1="1695.40" y1="991.46" x2="1690.40" y2="991.46" stroke="#ff8000" stroke-width="3.4" stroke-linecap="butt"/>
<line x1="1695.40" y1="965.12" x2="1690.40" y2="965.12" stroke="#ff8000" stroke-width="3.4" stroke-linecap="butt"/>
<line x1="1695.40" y1="938.78" x2="1690.40" y2="938.78" stroke="#ff8000" stroke-width="3.4" stroke-linecap="butt"/>
<line x1="1695.40" y1="912.44" x2="1690.40" y2="912.44" stroke="#ff8000" stroke-width="3.4" stroke-linecap="butt"/>
<line x1="1695.40" y1="886.10" x2="1685.40" y2="886.10" stroke="#ff8000" stroke-width="3.4" stroke-linecap="butt"/>
<line x1="1695.40" y1="859.76" x2="1690.40" y2="859.76" stroke="#ff8000" stroke-width="3.4" stroke-linecap="butt"/>
<line x1="1695.40" y1="833.42" x2="1690.40" y2="833.42" stroke="#ff8000" stroke-width="3.4" stroke-linecap="butt"/>
<line x1="1695.40" y1="807.08" x2="1690.40" y2="807.08" stroke="#ff8000" stroke-width="3.4" stroke-linecap="butt"/>
<line x1="1695.40" y1="780.74" x2="1690.40" y2="780.74" stroke="#ff8000" stroke-width="3.4" stroke-linecap="butt"/>
<line x1="1695.40" y1="754.40" x2="1685.40" y2="754.40" stroke="#ff8000" stroke-width="3.4" stroke-linecap="butt"/>
<line x1="1695.40" y1="728.06" x2="1690.40" y2="728.06" stroke="#ff8000" stroke-width="3.4" stroke-linecap="butt"/>
<line x1="1695.40" y1="701.72" x2="1690.40" y2="701.72" stroke="#ff8000" stroke-width="3.4" stroke-linecap="butt"/>
<line x1="1695.40" y1="675.38" x2="1690.40" y2="675.38" stroke="#ff8000" stroke-width="3.4" stroke-linecap="butt"/>
<line x1="1695.40" y1="649.04" x2="1690.40" y2="649.04" stroke="#ff8000" stroke-width="3.4" stroke-linecap="butt"/>
<rect x="1685.1" y="1147.2" width="12.6" height="4.6" fill="#ff8000"/>
<rect x="1685.1" y="620.4" width="12.6" height="4.6" fill="#ff8000"/>
<line x1="1695.40" y1="620.40" x2="1695.40" y2="1151.80" stroke="#ff8000" stroke-width="4.2" stroke-linecap="butt"/>
<text x="990.30" y="629.70" font-size="25.5" font-weight="bold" text-anchor="end" fill="#9900cc" >-0.2</text>
<text x="990.30" y="761.40" font-size="25.5" font-weight="bold" text-anchor="end" fill="#9900cc" >-0.4</text>
<text x="990.30" y="893.10" font-size="25.5" font-weight="bold" text-anchor="end" fill="#9900cc" >-0.6</text>
<text x="990.30" y="1024.80" font-size="25.5" font-weight="bold" text-anchor="end" fill="#9900cc" >-0.8</text>
<text x="990.30" y="1156.50" font-size="25.5" font-weight="bold" text-anchor="end" fill="#9900cc" >-1.0</text>
<text x="1706.30" y="1156.50" font-size="25" font-weight="bold" text-anchor="start" fill="#ff8000" >0</text>
<text x="1706.30" y="1024.80" font-size="25" font-weight="bold" text-anchor="start" fill="#ff8000" >4</text>
<text x="1706.30" y="893.10" font-size="25" font-weight="bold" text-anchor="start" fill="#ff8000" >8</text>
<text x="1706.30" y="761.40" font-size="25" font-weight="bold" text-anchor="start" fill="#ff8000" >12</text>
<text x="1706.30" y="629.70" font-size="25" font-weight="bold" text-anchor="start" fill="#ff8000" >16</text>
<text x="1056.80" y="653.30" font-size="27" font-weight="bold" text-anchor="start" fill="#000">0 g L<tspan font-size="19.7" dx="2.16" dy="-10.39">-1</tspan></text>
<text x="1215.60" y="786.50" font-size="27" font-weight="bold" text-anchor="start" fill="#000">1 g L<tspan font-size="19.7" dx="2.16" dy="-10.39">-1</tspan></text>
<text x="1387.30" y="837.50" font-size="27" font-weight="bold" text-anchor="start" fill="#000">2 g L<tspan font-size="19.7" dx="2.16" dy="-10.39">-1</tspan></text>
<text x="1578.40" y="852.50" font-size="27" font-weight="bold" text-anchor="start" fill="#000">3 g L<tspan font-size="19.7" dx="2.16" dy="-10.39">-1</tspan></text>
<text x="1300.50" y="1182.70" font-size="27" font-weight="bold" text-anchor="middle" fill="#000" letter-spacing="1.1">Concentration of EPS</text>
<text transform="translate(924,885) rotate(-90)" x="0" y="0" font-size="27" font-weight="bold" text-anchor="middle"><tspan font-style="italic">E</tspan><tspan font-size="21.5" dy="5.5">corr</tspan><tspan dy="-5.5"> (V) vs. SCE</tspan></text>
<text transform="translate(1781,878) rotate(-90)" x="0" y="0" font-size="27" font-weight="bold" text-anchor="middle"><tspan font-style="italic">i</tspan><tspan font-size="21.5" dy="5.5">corr</tspan><tspan dy="-5.5"> (&#956;A cm</tspan><tspan font-size="21" dx="1" dy="-10.5">-2</tspan><tspan dy="10.5">)</tspan></text>
</svg></body></html>
